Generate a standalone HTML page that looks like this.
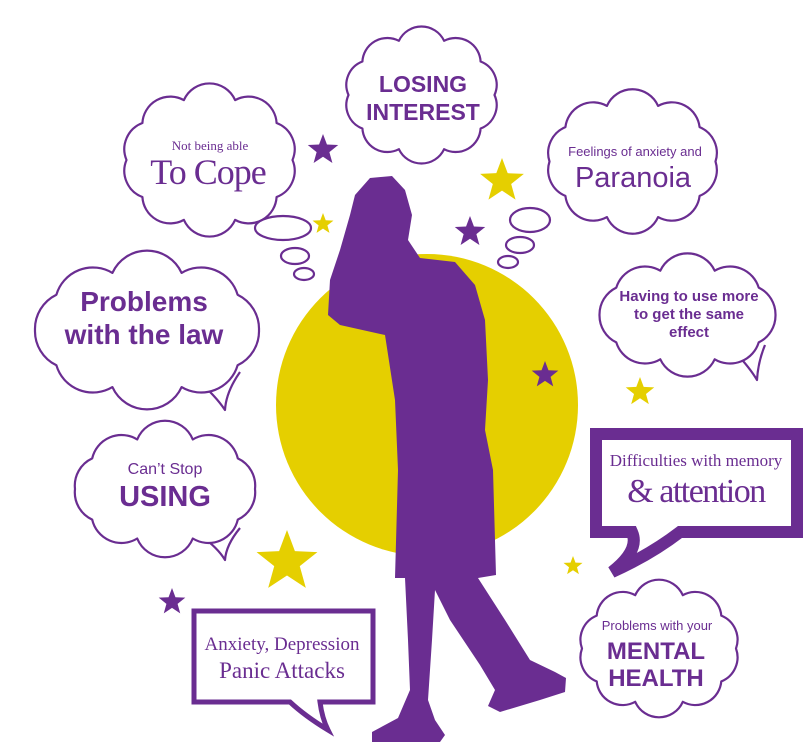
<!DOCTYPE html>
<html><head><meta charset="utf-8"><style>
html,body{margin:0;padding:0;background:#fff;}
svg{display:block;}
.sans{font-family:"Liberation Sans",sans-serif;}
.serif{font-family:"Liberation Serif",serif;}
</style></head><body>
<svg width="803" height="742" viewBox="0 0 803 742" xmlns="http://www.w3.org/2000/svg">
<defs>
<symbol id="st" viewBox="-1 -1 2 2"><polygon points="0,-1 .247,-.34 .951,-.309 .399,.13 .588,.809 0,.42 -.588,.809 -.399,.13 -.951,-.309 -.247,-.34"/></symbol>
</defs>
<circle cx="427" cy="405" r="151" fill="#e5cf00"/>
<g fill="#fff" stroke="#6a2d91" stroke-width="2.2" stroke-linejoin="round">
<!-- tails -->
<path d="M195,378 Q215,395 225,410 Q226,392 240,372"/>
<path d="M735,352 Q750,368 757,380 Q758,362 765,345"/>
<path d="M200,535 Q218,548 225,560 Q226,545 240,528"/>
<path d="M292.5,160 A28 28 0 0 1 276.6,197 A28 28 0 0 1 235.1,219.9 A28 28 0 0 1 183.9,219.9 A28 28 0 0 1 142.4,197 A28 28 0 0 1 126.5,160 A28 28 0 0 1 142.4,123 A28 28 0 0 1 183.9,100.1 A28 28 0 0 1 235.1,100.1 A28 28 0 0 1 276.6,123 A28 28 0 0 1 292.5,160 Z"/>
<path d="M494.5,95 A25 25 0 0 1 480.6,128.5 A25 25 0 0 1 444.1,149.2 A25 25 0 0 1 398.9,149.2 A25 25 0 0 1 362.4,128.5 A25 25 0 0 1 348.5,95 A25 25 0 0 1 362.4,61.5 A25 25 0 0 1 398.9,40.8 A25 25 0 0 1 444.1,40.8 A25 25 0 0 1 480.6,61.5 A25 25 0 0 1 494.5,95 Z"/>
<path d="M715.5,161.5 A28 28 0 0 1 699.6,195.9 A28 28 0 0 1 658.1,217.1 A28 28 0 0 1 606.9,217.1 A28 28 0 0 1 565.4,195.9 A28 28 0 0 1 549.5,161.5 A28 28 0 0 1 565.4,127.1 A28 28 0 0 1 606.9,105.9 A28 28 0 0 1 658.1,105.9 A28 28 0 0 1 699.6,127.1 A28 28 0 0 1 715.5,161.5 Z"/>
<path d="M259,330 A38 38 0 0 1 237.6,365.3 A38 38 0 0 1 181.6,387.1 A38 38 0 0 1 112.4,387.1 A38 38 0 0 1 56.4,365.3 A38 38 0 0 1 35,330 A38 38 0 0 1 56.4,294.7 A38 38 0 0 1 112.4,272.9 A38 38 0 0 1 181.6,272.9 A38 38 0 0 1 237.6,294.7 A38 38 0 0 1 259,330 Z"/>
<path d="M775.5,315 A30 30 0 0 1 758.7,342.4 A30 30 0 0 1 714.7,359.3 A30 30 0 0 1 660.3,359.3 A30 30 0 0 1 616.3,342.4 A30 30 0 0 1 599.5,315 A30 30 0 0 1 616.3,287.6 A30 30 0 0 1 660.3,270.7 A30 30 0 0 1 714.7,270.7 A30 30 0 0 1 758.7,287.6 A30 30 0 0 1 775.5,315 Z"/>
<path d="M255,489 A30 30 0 0 1 237.8,519.6 A30 30 0 0 1 192.8,538.5 A30 30 0 0 1 137.2,538.5 A30 30 0 0 1 92.2,519.6 A30 30 0 0 1 75,489 A30 30 0 0 1 92.2,458.4 A30 30 0 0 1 137.2,439.5 A30 30 0 0 1 192.8,439.5 A30 30 0 0 1 237.8,458.4 A30 30 0 0 1 255,489 Z"/>
<path d="M736,648.5 A26 26 0 0 1 721.3,681.4 A26 26 0 0 1 682.8,701.8 A26 26 0 0 1 635.2,701.8 A26 26 0 0 1 596.7,681.4 A26 26 0 0 1 582,648.5 A26 26 0 0 1 596.7,615.6 A26 26 0 0 1 635.2,595.2 A26 26 0 0 1 682.8,595.2 A26 26 0 0 1 721.3,615.6 A26 26 0 0 1 736,648.5 Z"/>
<ellipse cx="283" cy="228" rx="28" ry="12"/>
<ellipse cx="295" cy="256" rx="14" ry="8"/>
<ellipse cx="304" cy="274" rx="10" ry="6"/>
<ellipse cx="530" cy="220" rx="20" ry="12"/>
<ellipse cx="520" cy="245" rx="14" ry="8"/>
<ellipse cx="508" cy="262" rx="10" ry="6"/>
</g>
<!-- stars -->
<use href="#st" x="307" y="134" width="32" height="32" fill="#6a2d91"/>
<use href="#st" x="479" y="158" width="46" height="46" fill="#e5cf00"/>
<use href="#st" x="312" y="213" width="22" height="22" fill="#e5cf00"/>
<use href="#st" x="454" y="216" width="32" height="32" fill="#6a2d91"/>
<use href="#st" x="531" y="361" width="28" height="28" fill="#6a2d91"/>
<use href="#st" x="625" y="377" width="30" height="30" fill="#e5cf00"/>
<use href="#st" x="563" y="556" width="20" height="20" fill="#e5cf00"/>
<use href="#st" x="255" y="530" width="64" height="64" fill="#e5cf00"/>
<use href="#st" x="158" y="588" width="28" height="28" fill="#6a2d91"/>
<polygon fill="#6a2d91" points="370,178 392,176 405,190 412,215 408,240 420,258 455,262 475,285 485,320 488,380 485,430 493,470 496,575 478,578 505,620 530,660 555,672 566,678 565,692 540,700 500,712 488,706 495,690 480,665 450,620 435,590 432,640 428,700 435,720 445,735 440,742 372,742 372,732 398,718 410,690 408,640 405,578 395,578 398,470 395,400 385,335 340,325 328,315 330,280 340,250 350,215 355,195"/>
<!-- memory box -->
<path d="M596,434 H797 V532 H680 Q650,555 612,572 Q640,550 632,532 H596 Z" fill="#fff" stroke="#6a2d91" stroke-width="12"/>
<text class="serif" x="696" y="466" font-size="17" fill="#6a2d91" text-anchor="middle">Difficulties with memory</text>
<text class="serif" x="696" y="502" font-size="34" fill="#6a2d91" text-anchor="middle" letter-spacing="-1.5">&amp; attention</text>
<!-- anxiety box -->
<path d="M194,611 H373 V702 H320 Q322,718 328,730 Q305,716 290,702 H194 Z" fill="#fff" stroke="#6a2d91" stroke-width="5"/>
<text class="serif" x="282" y="650" font-size="19" fill="#6a2d91" text-anchor="middle">Anxiety, Depression</text>
<text class="serif" x="282" y="678" font-size="23" fill="#6a2d91" text-anchor="middle">Panic Attacks</text>
<g fill="#6a2d91" text-anchor="middle">
<text class="serif" x="210" y="150" font-size="13">Not being able</text>
<text class="serif" x="208" y="184" font-size="36" letter-spacing="-1">To Cope</text>
<text class="sans" x="423" y="92" font-size="23" font-weight="bold">LOSING</text>
<text class="sans" x="423" y="120" font-size="23" font-weight="bold">INTEREST</text>
<text class="sans" x="635" y="156" font-size="13">Feelings of anxiety and</text>
<text class="sans" x="633" y="187" font-size="29">Paranoia</text>
<text class="sans" x="144" y="311" font-size="28" font-weight="bold">Problems</text>
<text class="sans" x="144" y="344" font-size="28" font-weight="bold">with the law</text>
<text class="sans" x="689" y="301" font-size="15" font-weight="bold">Having to use more</text>
<text class="sans" x="689" y="319" font-size="15" font-weight="bold">to get the same</text>
<text class="sans" x="689" y="337" font-size="15" font-weight="bold">effect</text>
<text class="sans" x="165" y="474" font-size="16">Can’t Stop</text>
<text class="sans" x="165" y="506" font-size="29" font-weight="bold">USING</text>
<text class="sans" x="657" y="630" font-size="13">Problems with your</text>
<text class="sans" x="656" y="659" font-size="24" font-weight="bold">MENTAL</text>
<text class="sans" x="656" y="686" font-size="24" font-weight="bold">HEALTH</text>
</g>
</svg>
</body></html>
